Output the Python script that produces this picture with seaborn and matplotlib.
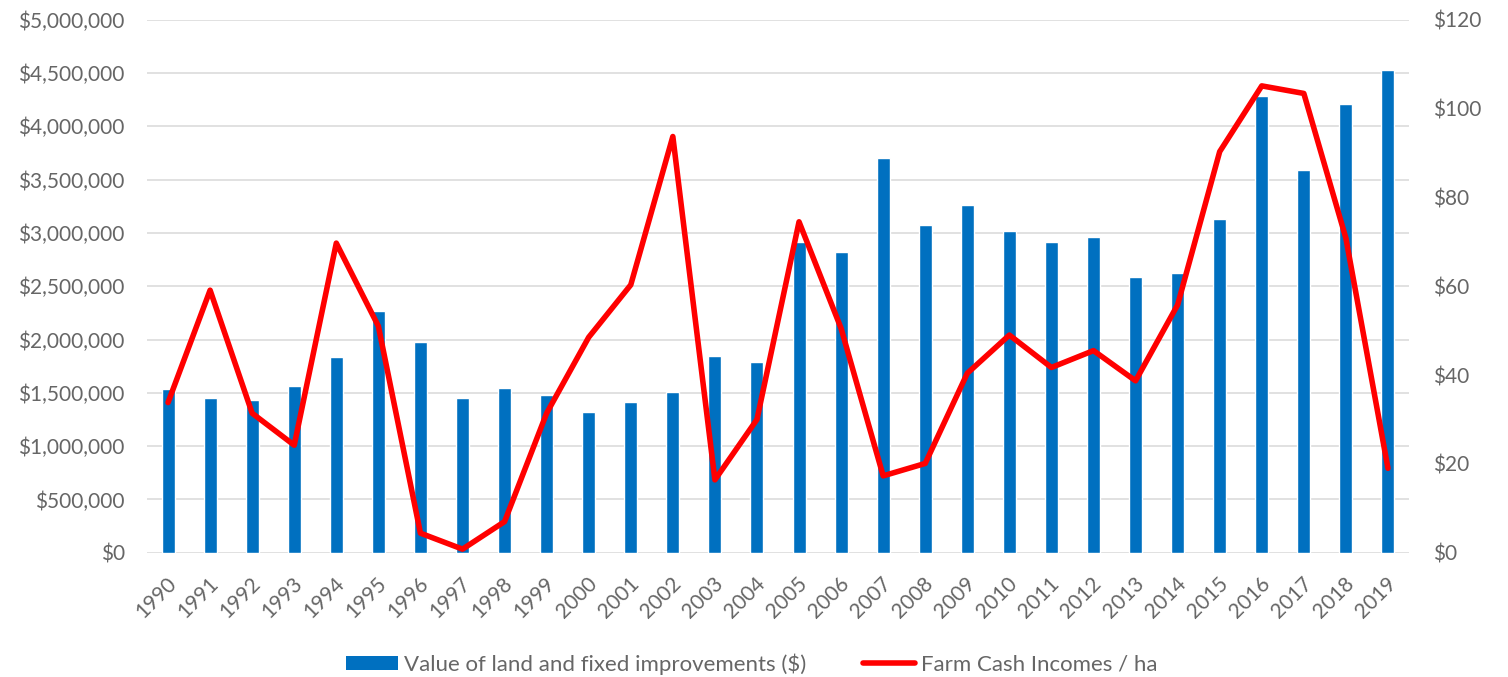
import matplotlib
matplotlib.use("Agg")
import matplotlib.pyplot as plt
import matplotlib.transforms as mtransforms
from matplotlib.patches import Patch
from matplotlib.lines import Line2D
from matplotlib.ticker import FuncFormatter, MultipleLocator
import seaborn as sns
import pandas as pd

# Annual series
years = [str(y) for y in range(1990, 2020)]
land_value = [
    1533000, 1448000, 1432000, 1561000, 1836000, 2267000, 1974000, 1448000,
    1542000, 1477000, 1320000, 1411000, 1505000, 1848000, 1786000, 2918000,
    2818000, 3700000, 3071000, 3259000, 3018000, 2918000, 2962000, 2584000,
    2627000, 3133000, 4284000, 3587000, 4206000, 4528000,
]
cash_income_per_ha = [
    33.8, 59.1, 31.4, 24.2, 69.7, 51.0, 4.4, 0.8, 7.0, 31.4,
    48.5, 60.3, 93.7, 16.4, 30.0, 74.5, 50.5, 17.3, 20.1, 40.4,
    49.0, 41.7, 45.5, 38.7, 55.8, 90.3, 105.1, 103.4, 70.8, 19.0,
]
bar_label = "Value of land and fixed improvements ($)"
line_label = "Farm Cash Incomes / ha"

df = pd.DataFrame({"year": years, "value": land_value, "income": cash_income_per_ha})

BLUE = "#0070C0"
RED = "#FF0000"
TEXT = "#666666"
GRID = "#D9D9D9"

sns.set_style("white")
plt.rcParams["font.family"] = ["Lato", "DejaVu Sans"]

W, H = 1508, 677
fig = plt.figure(figsize=(W / 100, H / 100), dpi=100)
left, right, top, bottom = 147, 1409, 19.7, 552.7
ax = fig.add_axes([left / W, 1 - bottom / H, (right - left) / W, (bottom - top) / H])

# Bars: land value on the left axis
sns.barplot(data=df, x="year", y="value", color=BLUE, width=0.31,
            saturation=1, ax=ax, zorder=2)
ax.set_ylim(0, 5_000_000)
ax.yaxis.set_major_locator(MultipleLocator(500_000))
ax.yaxis.set_major_formatter(FuncFormatter(lambda v, _: f"${v:,.0f}"))
ax.grid(axis="y", color=GRID, linewidth=1.1, zorder=0)
ax.set_axisbelow(True)
ax.set_xlabel("")
ax.set_ylabel("")
for s in ax.spines.values():
    s.set_visible(False)
ax.tick_params(axis="y", length=0, pad=16, labelsize=15, labelcolor=TEXT)
ax.tick_params(axis="x", length=0, pad=20, labelsize=15, labelcolor=TEXT)
offset = mtransforms.ScaledTranslation(5 / 100, 0, fig.dpi_scale_trans)
for lab in ax.get_xticklabels():
    lab.set_rotation(45)
    lab.set_ha("right")
    lab.set_va("center")
    lab.set_rotation_mode("anchor")
    lab.set_transform(lab.get_transform() + offset)

# Line: cash income per hectare on the right axis
ax2 = ax.twinx()
sns.pointplot(data=df, x="year", y="income", color=RED, markers="",
              linewidth=4, ax=ax2)
for ln in ax2.lines:
    ln.set_solid_joinstyle("round")
    ln.set_solid_capstyle("round")
ax2.set_ylim(0, 120)
ax2.yaxis.set_major_locator(MultipleLocator(20))
ax2.yaxis.set_major_formatter(FuncFormatter(lambda v, _: f"${v:,.0f}"))
ax2.set_xlabel("")
ax2.set_ylabel("")
ax2.grid(False)
for s in ax2.spines.values():
    s.set_visible(False)
ax2.tick_params(axis="y", length=0, pad=17, labelsize=15, labelcolor=TEXT)
ax.set_xlim(-0.5, len(years) - 0.5)

handles = [
    Patch(facecolor=BLUE, edgecolor="none", label=bar_label),
    Line2D([], [], color=RED, linewidth=4, solid_capstyle="round", label=line_label),
]
fig.legend(handles=handles, loc="center", bbox_to_anchor=(752 / W, 1 - 664 / H),
           ncol=2, frameon=False, fontsize=16, labelcolor=TEXT,
           handlelength=2.34, handleheight=0.59, handletextpad=0.27,
           columnspacing=2.57)

fig.savefig("out.png", dpi=100)
